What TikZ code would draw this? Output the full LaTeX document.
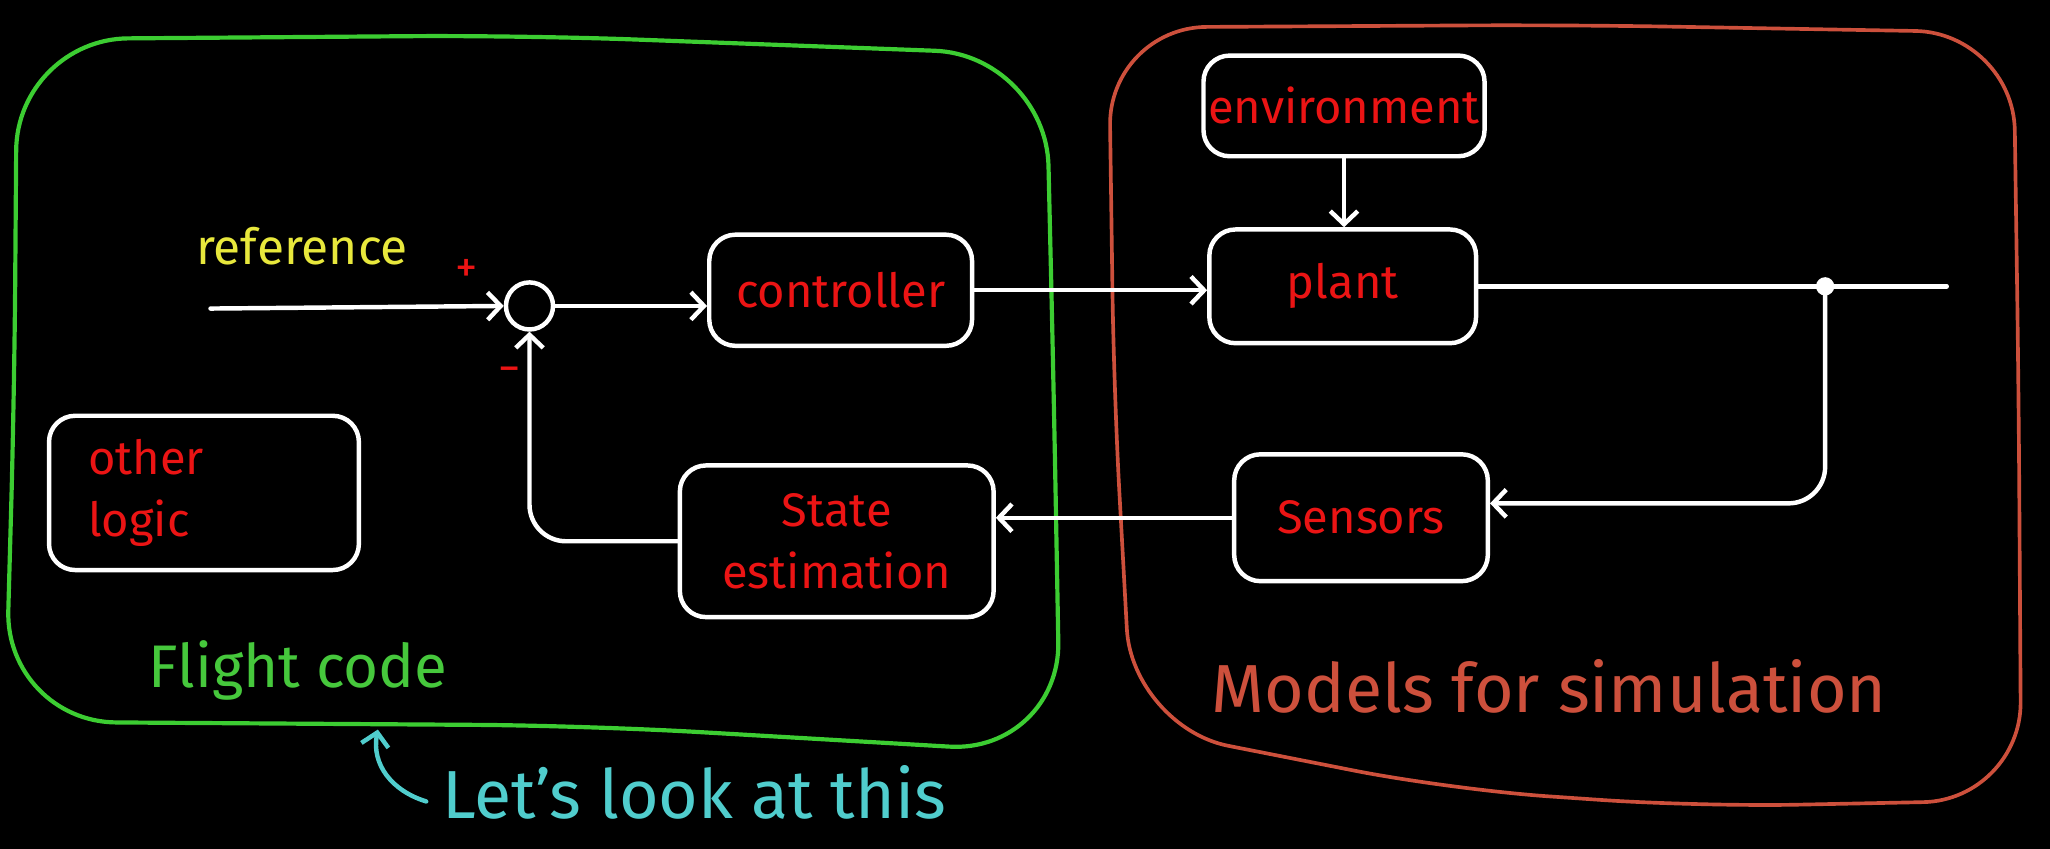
\documentclass[tikz,border=0pt]{standalone}
\usepackage{fontspec}
\setmainfont{Fira Sans}
\usetikzlibrary{arrows.meta,calc}
\definecolor{labred}{RGB}{235,20,20}
\definecolor{refyel}{RGB}{232,232,60}
\definecolor{flgreen}{RGB}{70,200,60}
\definecolor{boxgreen}{RGB}{60,205,50}
\definecolor{modred}{RGB}{205,80,60}
\definecolor{cyantxt}{RGB}{80,205,205}
\tikzset{
  box/.style={draw=white, line width=3.4pt, rounded corners=20pt, text=labred,
    font=\fontsize{36}{48}\selectfont, align=center, inner sep=0pt},
  wire/.style={draw=white, line width=3.4pt, line cap=round, line join=round},
  arr/.style={wire, -{Straight Barb[length=10pt,width=21pt]}},
  outer/.style={line width=3.2pt, line join=round},
}
\begin{document}
\begin{tikzpicture}[x=1pt,y=-1pt]
\fill[black] (0,0) rectangle (1568,649);
\useasboundingbox (0,0) rectangle (1568,649);

% outer groups
\draw[outer, draw=boxgreen, rounded corners=85pt]
  (11,300) -- (13,30) -- (400,27) -- (800,42) -- (806,300) -- (811,576)
  -- (450,555) -- (4,552) -- cycle;
\draw[outer, draw=modred, line width=2.8pt, rounded corners=75pt]
  (852,300) -- (848,21) -- (1200,19) -- (1540,25) -- (1544,300) -- (1546,612)
  -- (1300,617) -- (1110,604) -- (866,556) -- cycle;

% blocks
\node[box, minimum width=201pt, minimum height=85pt] (ctrl) at (643,222) {controller};
\node[box, minimum width=204pt, minimum height=87pt] (plant) at (1027,219) {plant};
\node[box, minimum width=215pt, minimum height=77pt] (env) at (1028,81) {environment};
\node[box, minimum width=194pt, minimum height=97pt] (sens) at (1041,396) {Sensors};
\node[box, minimum width=240pt, minimum height=116pt] (est) at (640,414) {State\\estimation};
\node[box, minimum height=118pt, text width=177pt, inner xsep=30pt, align=left] (other) at (156,377) {other\\logic};
\node[circle, draw=white, line width=3.4pt, minimum size=36pt, inner sep=0pt] (sum) at (405,234) {};
\node[circle, fill=white, minimum size=14pt, inner sep=0pt] (dot) at (1396,219) {};

% connectors
\coordinate (refin) at (161,236);
\coordinate (outend) at (1489,219);
\draw[arr] (refin) -- (sum.west);
\draw[arr] (sum.east) -- (sum.east -| ctrl.west);
\draw[arr] (ctrl.east) -- (ctrl.east -| plant.west);
\draw[arr] (env.south) -- (env.south |- plant.north);
\draw[wire] (plant.east) -- (dot.center) -- (outend);
\draw[arr, rounded corners=28pt] (dot.center) |- ($(sens.east)+(0,-11)$);
\draw[arr] (sens.west) -- (sens.west -| est.east);
\draw[arr, rounded corners=28pt] (est.west) -| (sum.south);

% labels
\node[text=refyel, font=\fontsize{38}{40}\selectfont] (reftxt) at (231,188) {reference};
\node[text=labred, font=\fontsize{34}{34}\selectfont] (plus) at (357,207) {+};
\node[text=labred, font=\fontsize{34}{34}\selectfont] (minus) at (390,287) {−};
\node[text=flgreen, font=\fontsize{46}{50}\selectfont] (flight) at (228,513) {Flight code};
\node[text=modred, font=\fontsize{52}{56}\selectfont] (models) at (1185,525) {Models for simulation};
\node[text=cyantxt, font=\fontsize{52}{56}\selectfont] (lets) at (531,606) {Let's look at this};
\coordinate (ctail) at (326,613);
\coordinate (chead) at (289,558);
\draw[arr, draw=cyantxt] (ctail) .. controls (300,605) and (284,585) .. (chead);
\end{tikzpicture}
\end{document}
